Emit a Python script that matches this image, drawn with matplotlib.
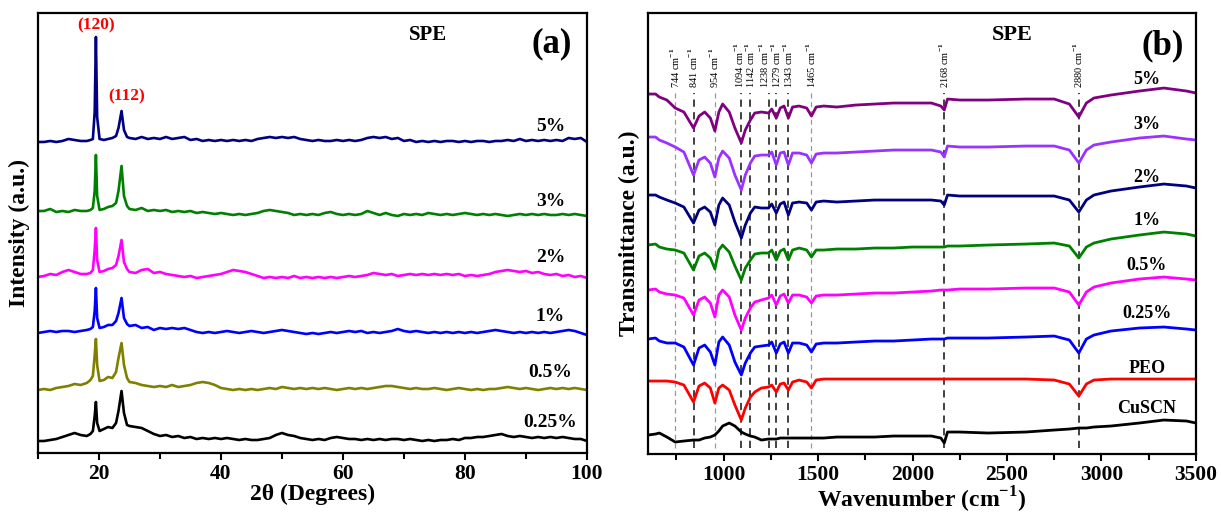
import numpy as np
import matplotlib
matplotlib.use("Agg")
import matplotlib.pyplot as plt
from matplotlib.ticker import MultipleLocator

plt.rcParams['font.family'] = ['Liberation Serif', 'DejaVu Serif']
plt.rcParams['font.weight'] = 'bold'
plt.rcParams['axes.labelweight'] = 'bold'
plt.rcParams['mathtext.fontset'] = 'custom'
plt.rcParams['mathtext.rm'] = 'Liberation Serif'
plt.rcParams['mathtext.bf'] = 'Liberation Serif:bold'

# ---------- (a) XRD data ----------
two_theta = [10, 11, 12, 13, 14, 15, 16, 17, 18, 18.6, 19.0, 19.3, 19.5, 19.7, 20.1, 20.8,
             21.5, 22.2, 22.8, 23.2, 23.7, 24.1, 24.6] + list(range(25, 101))

xrd_labels = ['5%', '3%', '2%', '1%', '0.5%', '0.25%']
xrd_colors = ['#000080', '#008000', '#FF00FF', '#0000FF', '#808000', '#000000']
xrd_offsets = [311, 237, 175, 120, 63, 12]

xrd_5 = [0, 0, 1, 0, 1, 3, 2, 1, 1, 2, 3, 30, 105, 25, 3, 2, 3, 4, 6, 14, 31, 12, 5,
         4, 3, 5, 3, 4, 3, 5, 3, 4, 5, 2, 3, 1, 2, 1, 2, 1, 2, 1, 2, 1, 3, 4, 5, 4, 5,
         4, 5, 3, 2, 1, 2, 1, 1, 2, 1, 2, 1, 2, 4, 5, 4, 5, 3, 4, 1, 2, 0, 1, 0, 1, 0,
         1, 1, 0, 1, 0, 1, 1, 0, 1, 1, 2, 1, 3, 1, 2, 1, 2, 1, 2, 1, 4, 3, 4, 0]
xrd_3 = [5, 5, 7, 4, 5, 4, 6, 5, 5, 6, 8, 25, 61, 20, 6, 7, 9, 10, 13, 25, 50, 20, 10,
         7, 6, 8, 5, 6, 5, 6, 4, 5, 4, 5, 3, 4, 3, 2, 3, 2, 1, 2, 1, 2, 3, 5, 6, 5, 4,
         3, 1, 2, 1, 2, 1, 3, 4, 2, 1, 2, 1, 2, 5, 3, 1, 3, 1, 0, 2, 1, 2, 1, 3, 2, 1,
         2, 1, 2, 3, 2, 1, 2, 1, 2, 1, 0, 1, 2, 1, 2, 1, 2, 1, 1, 2, 1, 2, 1, 0]
xrd_2 = [1, 2, 4, 3, 6, 8, 6, 4, 4, 5, 8, 28, 50, 18, 6, 7, 9, 10, 13, 22, 38, 16, 9,
         6, 5, 8, 9, 5, 6, 4, 3, 2, 1, 2, 0, 1, 2, 3, 4, 6, 8, 7, 6, 4, 2, 0, 1, 0, 1,
         0, 2, 0, 1, 0, 1, 0, 1, 0, 1, 2, 1, 2, 3, 5, 4, 3, 4, 2, 3, 4, 3, 4, 3, 4, 3,
         4, 3, 4, 2, 3, 2, 3, 4, 6, 7, 8, 7, 6, 7, 5, 6, 4, 3, 4, 2, 3, 1, 2, 0]
xrd_1 = [0, 1, 2, 1, 2, 2, 1, 2, 3, 4, 6, 22, 45, 15, 5, 6, 8, 8, 12, 20, 35, 15, 9,
         7, 8, 5, 6, 3, 5, 4, 5, 4, 5, 3, 1, 0, 1, 0, 1, 2, 1, 0, 1, 2, 1, 0, 1, 2, 3,
         2, 1, 0, -1, 0, -1, 0, 1, 0, 1, 2, 1, 2, 0, 1, 0, 1, 2, 4, 2, 1, 2, 1, 0, 1, 0,
         1, 0, 1, 0, 1, 0, 1, 2, 3, 2, 1, 0, 1, 0, 1, 0, 1, 0, 1, 2, 3, 2, 0, -2]
xrd_05 = [0, 1, 0, 2, 3, 4, 6, 5, 7, 10, 14, 35, 51, 25, 9, 10, 13, 12, 18, 32, 47, 25, 12,
          8, 7, 5, 4, 3, 4, 3, 5, 3, 4, 5, 7, 8, 7, 5, 2, 1, 0, 1, 0, 1, 0, 1, 2, 1, 3,
          2, 1, 2, 1, 2, 1, 2, 1, 0, 1, 2, 1, 2, 1, 2, 3, 4, 4, 3, 2, 1, 2, 1, 1, 2, 1,
          0, 1, 2, 1, 0, 1, 0, 1, 1, 2, 3, 2, 1, 2, 1, 0, 1, 2, 1, 2, 1, 2, 1, 0]
xrd_025 = [0, 0, 1, 2, 4, 6, 8, 6, 5, 7, 10, 25, 39, 18, 10, 12, 14, 13, 18, 30, 50, 28, 16,
           15, 14, 13, 10, 7, 5, 6, 4, 5, 3, 4, 2, 3, 2, 3, 2, 3, 2, 1, 2, 1, 1, 2, 3, 6, 8,
           6, 5, 3, 2, 1, 2, 1, 3, 4, 3, 2, 2, 1, 2, 1, 2, 1, 2, 2, 1, 2, 1, 0, 1, 0, 1,
           1, 2, 1, 3, 3, 4, 4, 5, 6, 7, 5, 4, 5, 4, 3, 4, 3, 4, 3, 4, 3, 2, 2, 0]
xrd_series = [xrd_5, xrd_3, xrd_2, xrd_1, xrd_05, xrd_025]

# ---------- (b) FTIR data ----------
wavenumber = [600, 640, 660, 700, 744, 790, 841, 870, 900, 930, 954, 975, 995, 1030, 1060,
              1094, 1115, 1142, 1165, 1200, 1238, 1255, 1279, 1300, 1320, 1343, 1365, 1400,
              1440, 1465, 1490, 1530, 1600, 1700, 1800, 1900, 2000, 2100, 2150, 2168, 2185,
              2250, 2400, 2600, 2750, 2830, 2880, 2920, 2960, 3050, 3200, 3330, 3450, 3500]

ftir_labels = ['5%', '3%', '2%', '1%', '0.5%', '0.25%', 'PEO', 'CuSCN']
ftir_colors = ['#800080', '#9933FF', '#000080', '#008000', '#FF00FF', '#0000FF', '#FF0000', '#000000']

ftir_5 = [360, 360, 357, 354, 346, 342, 326, 338, 342, 336, 323, 342, 350, 342, 326, 311, 324, 334,
          341, 342, 341, 345, 336, 346, 348, 336, 347, 348, 346, 338, 347, 348, 347, 349, 350, 351,
          351, 351, 348, 344, 355, 354, 354, 355, 355, 350, 337, 351, 356, 359, 363, 366, 363, 361]
ftir_3 = [317, 317, 314, 311, 307, 302, 279, 294, 297, 291, 277, 296, 303, 296, 279, 264, 279, 291,
          298, 299, 299, 302, 289, 301, 302, 289, 301, 301, 299, 291, 300, 301, 301, 302, 303, 304,
          304, 304, 302, 297, 308, 307, 307, 308, 308, 304, 291, 304, 309, 312, 316, 318, 315, 314]
ftir_2 = [259, 259, 257, 254, 251, 247, 231, 244, 247, 242, 229, 249, 256, 249, 232, 216, 229, 241,
          247, 246, 246, 250, 241, 250, 252, 239, 251, 252, 251, 244, 252, 253, 252, 253, 254, 254,
          254, 254, 253, 249, 259, 258, 258, 258, 258, 254, 242, 254, 259, 263, 267, 270, 268, 266]
ftir_1 = [209, 210, 207, 205, 204, 201, 184, 198, 201, 196, 185, 204, 209, 202, 188, 174, 186, 194,
          200, 201, 201, 204, 194, 203, 205, 194, 204, 206, 204, 197, 204, 204, 205, 205, 206, 206,
          207, 207, 207, 207, 208, 208, 209, 210, 211, 208, 196, 207, 211, 215, 219, 222, 220, 218]
ftir_05 = [164, 165, 162, 160, 159, 156, 139, 154, 157, 151, 137, 159, 164, 157, 139, 124, 136, 146,
           152, 154, 156, 159, 149, 158, 160, 151, 159, 159, 157, 151, 158, 159, 159, 160, 161, 161,
           162, 163, 164, 164, 164, 165, 165, 166, 166, 162, 149, 162, 167, 171, 175, 177, 175, 174]
ftir_025 = [115, 116, 113, 111, 111, 107, 89, 106, 109, 102, 89, 112, 117, 109, 92, 79, 91, 101,
            107, 108, 109, 112, 101, 110, 112, 101, 111, 111, 109, 102, 110, 111, 111, 112, 113, 113,
            114, 115, 115, 115, 116, 116, 116, 117, 118, 114, 101, 115, 119, 123, 126, 127, 125, 124]
ftir_peo = [73, 73, 73, 73, 72, 69, 52, 68, 71, 66, 51, 66, 69, 64, 49, 34, 46, 57,
            62, 66, 67, 69, 62, 70, 71, 64, 72, 74, 72, 66, 74, 75, 75, 75, 75, 75,
            75, 75, 75, 75, 75, 75, 75, 75, 74, 70, 58, 70, 74, 75, 75, 75, 75, 75]
ftir_cuscn = [19, 20, 21, 17, 12, 13, 14, 14, 16, 17, 19, 23, 28, 31, 28, 22, 20, 18,
              17, 14, 15, 15, 15, 16, 16, 16, 16, 16, 16, 16, 16, 16, 17, 17, 17, 18,
              18, 18, 16, 11, 22, 22, 21, 22, 24, 25, 26, 26, 27, 28, 31, 34, 33, 31]
ftir_series = [ftir_5, ftir_3, ftir_2, ftir_1, ftir_05, ftir_025, ftir_peo, ftir_cuscn]

peak_positions = [744, 841, 954, 1094, 1142, 1238, 1279, 1343, 1465, 2168, 2880]
peak_dark = [False, True, False, True, True, True, True, True, False, True, True]
# small nudges so the crowded labels stay readable
label_nudge = [0, 0, 0, -12, 2, -24, -1, 2, 0, 0, 0]

# ---------- figure ----------
fig = plt.figure(figsize=(12.21, 5.15), dpi=100)
ax1 = fig.add_axes([0.0311, 0.1204, 0.4496, 0.8544])
ax2 = fig.add_axes([0.5307, 0.1184, 0.4488, 0.8563])

for ax in (ax1, ax2):
    for s in ax.spines.values():
        s.set_linewidth(1.6)
    ax.set_yticks([])
    ax.tick_params(axis='x', which='major', direction='out', length=5, width=1.5,
                   labelsize=15.5, pad=3)
    ax.tick_params(axis='x', which='minor', direction='out', length=4, width=1.5)

# (a)
for vals, off, c in zip(xrd_series, xrd_offsets, xrd_colors):
    ax1.plot(two_theta, np.array(vals) + off, color=c, lw=1.9)
label_y_a = [326, 251, 195, 136, 80, 30]
for lab, y in zip(xrd_labels, label_y_a):
    ax1.text(94, y, lab, ha='center', va='center', fontsize=14)
ax1.text(19.5, 428, '(120)', color='red', ha='center', va='center', fontsize=12.5)
ax1.text(24.6, 357, '(112)', color='red', ha='center', va='center', fontsize=12.5)
ax1.text(0.71, 0.95, 'SPE', transform=ax1.transAxes, ha='center', va='center', fontsize=15)
ax1.text(0.935, 0.93, '(a)', transform=ax1.transAxes, ha='center', va='center', fontsize=25)
ax1.set_xlim(10, 100)
ax1.set_ylim(0, 440)
ax1.xaxis.set_major_locator(MultipleLocator(20))
ax1.xaxis.set_minor_locator(MultipleLocator(10))
ax1.set_xlabel('2θ (Degrees)', fontsize=17, labelpad=0)
ax1.set_ylabel('Intensity (a.u.)', fontsize=17, labelpad=6)

# (b)
for pos, dark, dx in zip(peak_positions, peak_dark, label_nudge):
    if dark:
        ax2.plot([pos, pos], [6, 361], color='#333333', lw=1.3, ls=(0, (4, 3)), zorder=1)
    else:
        ax2.plot([pos, pos], [6, 361], color='#999999', lw=0.9, ls=(0, (4, 3)), zorder=1)
    ax2.text(pos + dx, 366, f'{pos} cm$^{{-1}}$', rotation=90, ha='center', va='bottom',
             fontsize=7.5, fontweight='normal')
for vals, c in zip(ftir_series, ftir_colors):
    ax2.plot(wavenumber, vals, color=c, lw=2.0, zorder=2)
label_y_b = [375, 330, 277, 234, 189, 141, 86, 46]
for lab, y in zip(ftir_labels, label_y_b):
    ax2.text(3240, y, lab, ha='center', va='center', fontsize=13)
ax2.text(0.665, 0.95, 'SPE', transform=ax2.transAxes, ha='center', va='center', fontsize=16)
ax2.text(0.94, 0.925, '(b)', transform=ax2.transAxes, ha='center', va='center', fontsize=25)
ax2.set_xlim(600, 3500)
ax2.set_ylim(0, 441)
ax2.xaxis.set_major_locator(MultipleLocator(500))
ax2.xaxis.set_minor_locator(MultipleLocator(250))
ax2.set_xlabel(r'Wavenumber (cm$^{\mathbf{-1}}$)', fontsize=17, labelpad=0)
ax2.set_ylabel('Transmittance (a.u.)', fontsize=17, labelpad=6)

fig.savefig('out.png', dpi=100)
